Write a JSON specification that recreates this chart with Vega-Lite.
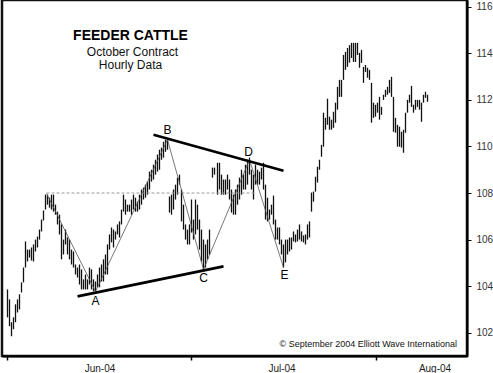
{
  "$schema": "https://vega.github.io/schema/vega-lite/v6.json",
  "width": 465,
  "height": 356,
  "autosize": {"type": "none"},
  "padding": {"left": 2, "top": 0, "right": 26, "bottom": 17},
  "background": "white",
  "config": {
    "view": {"stroke": "#111", "strokeWidth": 2.5},
    "font": "Liberation Sans",
    "text": {"font": "Liberation Sans"}
  },
  "datasets": {
    "bars": [
      {"t":0.5,"hi":103.86,"lo":102.66},{"t":1.5,"hi":103.43,"lo":102.28},{"t":2.5,"hi":102.45,"lo":101.85},{"t":3.5,"hi":102.66,"lo":102.15},
      {"t":4.5,"hi":103.22,"lo":102.45},{"t":5.5,"hi":103.43,"lo":102.87},{"t":6.5,"hi":103.65,"lo":103.0},{"t":7.5,"hi":104.16,"lo":103.73},
      {"t":8.5,"hi":104.8,"lo":104.16},{"t":9.5,"hi":105.92,"lo":104.8},{"t":10.5,"hi":105.57,"lo":105.06},{"t":11.5,"hi":105.57,"lo":105.23},
      {"t":12.5,"hi":105.66,"lo":105.1},{"t":13.5,"hi":105.79,"lo":105.06},{"t":14.5,"hi":106.0,"lo":105.49},{"t":15.5,"hi":106.13,"lo":105.66},
      {"t":16.5,"hi":106.43,"lo":106.0},{"t":17.5,"hi":106.86,"lo":106.35},{"t":18.5,"hi":107.25,"lo":106.82},{"t":19.5,"hi":107.93,"lo":107.29},
      {"t":20.5,"hi":107.93,"lo":107.5},{"t":21.5,"hi":107.8,"lo":107.37},{"t":22.5,"hi":107.93,"lo":107.29},{"t":23.5,"hi":107.93,"lo":107.2},
      {"t":24.5,"hi":107.5,"lo":107.07},{"t":25.5,"hi":107.2,"lo":106.65},{"t":26.5,"hi":107.07,"lo":106.22},{"t":27.5,"hi":106.65,"lo":105.15},
      {"t":28.5,"hi":106.0,"lo":105.36},{"t":29.5,"hi":106.43,"lo":105.79},{"t":30.5,"hi":106.09,"lo":105.36},{"t":31.5,"hi":106.0,"lo":105.15},
      {"t":32.5,"hi":105.57,"lo":104.93},{"t":33.5,"hi":105.49,"lo":104.8},{"t":34.5,"hi":104.93,"lo":104.5},{"t":35.5,"hi":104.8,"lo":104.37},
      {"t":36.5,"hi":104.93,"lo":104.07},{"t":37.5,"hi":104.72,"lo":103.86},{"t":38.5,"hi":104.29,"lo":103.86},{"t":39.5,"hi":104.5,"lo":103.86},
      {"t":40.5,"hi":104.29,"lo":103.86},{"t":41.5,"hi":104.8,"lo":104.07},{"t":42.5,"hi":104.72,"lo":103.86},{"t":43.5,"hi":104.29,"lo":103.78},
      {"t":44.5,"hi":104.2,"lo":103.78},{"t":45.5,"hi":104.5,"lo":103.95},{"t":46.5,"hi":104.8,"lo":103.95},{"t":47.5,"hi":104.93,"lo":104.2},
      {"t":48.5,"hi":105.15,"lo":104.2},{"t":49.5,"hi":105.36,"lo":104.5},{"t":50.5,"hi":105.79,"lo":104.5},{"t":51.5,"hi":106.22,"lo":105.57},
      {"t":52.5,"hi":106.52,"lo":105.88},{"t":53.5,"hi":106.43,"lo":105.66},{"t":54.5,"hi":106.35,"lo":106.0},{"t":55.5,"hi":106.65,"lo":106.22},
      {"t":56.5,"hi":106.78,"lo":106.09},{"t":57.5,"hi":107.29,"lo":106.65},{"t":58.5,"hi":107.93,"lo":107.2},{"t":59.5,"hi":107.72,"lo":107.07},
      {"t":60.5,"hi":107.5,"lo":107.2},{"t":61.5,"hi":107.5,"lo":107.2},{"t":62.5,"hi":107.72,"lo":107.07},{"t":63.5,"hi":107.93,"lo":107.29},
      {"t":64.5,"hi":107.8,"lo":107.2},{"t":65.5,"hi":107.63,"lo":107.2},{"t":66.5,"hi":107.93,"lo":107.29},{"t":67.5,"hi":108.15,"lo":107.5},
      {"t":68.5,"hi":108.23,"lo":107.72},{"t":69.5,"hi":108.36,"lo":107.8},{"t":70.5,"hi":108.49,"lo":107.93},{"t":71.5,"hi":108.92,"lo":108.15},
      {"t":72.5,"hi":109.0,"lo":108.49},{"t":73.5,"hi":109.22,"lo":108.58},{"t":74.5,"hi":109.43,"lo":108.79},{"t":75.5,"hi":109.65,"lo":108.92},
      {"t":76.5,"hi":109.86,"lo":109.0},{"t":77.5,"hi":109.95,"lo":109.43},{"t":78.5,"hi":110.2,"lo":109.52},{"t":79.5,"hi":110.29,"lo":109.77},
      {"t":80.5,"hi":110.29,"lo":109.86},{"t":81.5,"hi":107.85,"lo":107.16},{"t":82.5,"hi":107.93,"lo":107.07},{"t":83.5,"hi":108.15,"lo":107.29},
      {"t":84.5,"hi":108.36,"lo":107.72},{"t":85.5,"hi":108.66,"lo":107.93},{"t":86.5,"hi":108.79,"lo":108.36},{"t":87.5,"hi":108.15,"lo":106.78},
      {"t":88.5,"hi":107.5,"lo":106.43},{"t":89.5,"hi":106.65,"lo":106.0},{"t":90.5,"hi":106.43,"lo":105.79},{"t":91.5,"hi":106.65,"lo":105.79},
      {"t":92.5,"hi":107.72,"lo":106.3},{"t":93.5,"hi":106.86,"lo":106.0},{"t":94.5,"hi":107.72,"lo":106.22},{"t":95.5,"hi":107.5,"lo":106.43},
      {"t":96.5,"hi":106.86,"lo":105.57},{"t":97.5,"hi":106.43,"lo":105.06},{"t":98.5,"hi":106.0,"lo":104.72},{"t":99.5,"hi":105.79,"lo":104.8},
      {"t":100.5,"hi":106.0,"lo":105.15},{"t":101.5,"hi":106.43,"lo":105.36},{"t":103,"hi":109.09,"lo":108.66},{"t":104,"hi":109.09,"lo":108.79},
      {"t":105.5,"hi":109.3,"lo":107.93},{"t":106.5,"hi":109.3,"lo":108.15},{"t":107.5,"hi":108.79,"lo":107.93},{"t":108.5,"hi":108.58,"lo":107.93},
      {"t":109.5,"hi":108.58,"lo":107.93},{"t":110.5,"hi":108.79,"lo":108.15},{"t":111.5,"hi":108.58,"lo":107.72},{"t":112.5,"hi":108.15,"lo":107.16},
      {"t":113.5,"hi":107.93,"lo":107.07},{"t":114.5,"hi":108.15,"lo":107.07},{"t":115.5,"hi":108.36,"lo":107.5},{"t":116.5,"hi":108.66,"lo":107.72},
      {"t":117.5,"hi":109.0,"lo":107.93},{"t":118.5,"hi":108.79,"lo":108.15},{"t":119.5,"hi":109.22,"lo":108.15},{"t":120.5,"hi":109.43,"lo":108.36},
      {"t":121.5,"hi":109.52,"lo":108.79},{"t":122.5,"hi":109.0,"lo":108.15},{"t":123.5,"hi":108.79,"lo":107.72},{"t":124.5,"hi":109.22,"lo":108.36},
      {"t":125.5,"hi":109.0,"lo":108.36},{"t":126.5,"hi":108.92,"lo":108.36},{"t":127.5,"hi":109.09,"lo":108.58},{"t":128.5,"hi":109.3,"lo":108.15},
      {"t":129.5,"hi":108.36,"lo":106.86},{"t":130.5,"hi":107.8,"lo":106.78},{"t":131.5,"hi":107.29,"lo":106.86},{"t":132.5,"hi":107.5,"lo":107.07},
      {"t":133.5,"hi":107.89,"lo":106.65},{"t":134.5,"hi":106.86,"lo":106.0},{"t":135.5,"hi":106.52,"lo":106.0},{"t":136.5,"hi":106.52,"lo":105.79},
      {"t":137.5,"hi":106.0,"lo":105.36},{"t":138.5,"hi":105.79,"lo":104.8},{"t":139.5,"hi":106.0,"lo":105.02},{"t":140.5,"hi":106.0,"lo":105.36},
      {"t":141.5,"hi":106.09,"lo":105.49},{"t":142.5,"hi":106.09,"lo":105.57},{"t":143.5,"hi":106.35,"lo":105.92},{"t":144.5,"hi":106.22,"lo":105.88},
      {"t":145.5,"hi":106.43,"lo":105.92},{"t":146.5,"hi":106.65,"lo":106.0},{"t":147.5,"hi":106.35,"lo":105.92},{"t":148.5,"hi":106.18,"lo":105.88},
      {"t":149.5,"hi":106.22,"lo":105.79},{"t":150.5,"hi":106.65,"lo":106.0},{"t":151.5,"hi":106.78,"lo":106.09},{"t":152.5,"hi":108.02,"lo":107.2},
      {"t":153.5,"hi":108.06,"lo":107.63},{"t":154.5,"hi":108.7,"lo":108.06},{"t":155.5,"hi":109.13,"lo":108.45},{"t":156.5,"hi":109.43,"lo":109.0},
      {"t":157.5,"hi":110.07,"lo":109.56},{"t":158.5,"hi":111.45,"lo":109.99},{"t":159.5,"hi":111.23,"lo":110.72},{"t":160.5,"hi":112.05,"lo":110.93},
      {"t":161.5,"hi":111.28,"lo":110.72},{"t":162.5,"hi":111.15,"lo":110.72},{"t":163.5,"hi":111.49,"lo":110.8},{"t":164.5,"hi":111.88,"lo":111.02},
      {"t":165.5,"hi":112.56,"lo":111.58},{"t":166.5,"hi":112.86,"lo":112.13},{"t":167.5,"hi":112.86,"lo":112.13},{"t":168.5,"hi":113.93,"lo":112.86},
      {"t":169.5,"hi":114.06,"lo":113.29},{"t":170.5,"hi":114.23,"lo":113.42},{"t":171.5,"hi":114.35,"lo":113.6},{"t":172.5,"hi":114.45,"lo":113.8},
      {"t":173.5,"hi":114.45,"lo":113.63},{"t":174.5,"hi":114.45,"lo":113.63},{"t":175.5,"hi":114.45,"lo":113.93},{"t":176.5,"hi":114.02,"lo":113.38},
      {"t":177.5,"hi":114.15,"lo":113.59},{"t":178.5,"hi":113.42,"lo":112.73},{"t":179.5,"hi":113.5,"lo":113.2},{"t":180.5,"hi":113.38,"lo":112.95},
      {"t":181.5,"hi":113.29,"lo":112.86},{"t":182.5,"hi":112.73,"lo":111.02},{"t":183.5,"hi":111.88,"lo":111.23},{"t":184.5,"hi":111.79,"lo":111.28},
      {"t":185.5,"hi":111.88,"lo":111.45},{"t":186.5,"hi":112.13,"lo":111.15},{"t":187.5,"hi":111.7,"lo":111.36},{"t":188.5,"hi":112.22,"lo":112.0},
      {"t":189.5,"hi":112.43,"lo":112.13},{"t":190.5,"hi":112.56,"lo":112.22},{"t":191.5,"hi":112.86,"lo":112.3},{"t":192.5,"hi":112.99,"lo":112.13},
      {"t":193.5,"hi":112.13,"lo":110.63},{"t":194.5,"hi":111.23,"lo":110.59},{"t":195.5,"hi":110.93,"lo":109.99},{"t":196.5,"hi":110.85,"lo":109.99},
      {"t":197.5,"hi":110.63,"lo":109.95},{"t":198.5,"hi":110.72,"lo":109.73},{"t":199.5,"hi":111.45,"lo":110.59},{"t":200.5,"hi":112.0,"lo":111.45},
      {"t":201.5,"hi":112.22,"lo":111.88},{"t":202.5,"hi":112.6,"lo":111.7},{"t":203.5,"hi":111.79,"lo":111.45},{"t":204.5,"hi":112.0,"lo":111.58},
      {"t":205.5,"hi":112.0,"lo":111.7},{"t":206.5,"hi":112.0,"lo":111.58},{"t":207.5,"hi":111.88,"lo":111.06},{"t":208.5,"hi":112.22,"lo":111.88},
      {"t":209.5,"hi":112.35,"lo":112.09},{"t":210.5,"hi":112.22,"lo":111.92}
    ],
    "ref": [{"t": 20, "t2": 124, "v": 108}],
    "wave": [
      {"i": 0, "t": 20, "v": 107.98},
      {"i": 1, "t": 44.5, "v": 103.77},
      {"i": 2, "t": 80.5, "v": 110.29},
      {"i": 3, "t": 98.5, "v": 104.72},
      {"i": 4, "t": 121.5, "v": 109.43},
      {"i": 5, "t": 138.5, "v": 104.8}
    ],
    "trend": [
      {"id": "AC", "t": 35.5, "v": 103.56},
      {"id": "AC", "t": 108.5, "v": 104.85},
      {"id": "BD", "t": 73.5, "v": 110.5},
      {"id": "BD", "t": 138.5, "v": 108.96}
    ],
    "points": [
      {"lab": "A", "t": 44.5, "v": 103.35},
      {"lab": "B", "t": 80.5, "v": 110.72},
      {"lab": "C", "t": 98.5, "v": 104.33},
      {"lab": "D", "t": 121, "v": 109.78},
      {"lab": "E", "t": 139, "v": 104.46}
    ],
    "head": [{"txt": "FEEDER CATTLE", "t": 62, "v": 114.75}],
    "sub": [
      {"txt": "October Contract", "t": 63, "v": 114.06},
      {"txt": "Hourly Data", "t": 62, "v": 113.5}
    ],
    "copy": [{"txt": "© September 2004 Elliott Wave International", "t": 136.5, "v": 101.5}]
  },
  "layer": [
    {
      "data": {"name": "bars"},
      "mark": {"type": "rule", "color": "#111111", "strokeWidth": 1.3},
      "encoding": {
        "x": {
          "field": "t", "type": "quantitative",
          "scale": {"domain": [-2.25, 230.25], "nice": false, "zero": false},
          "axis": {
            "title": null, "grid": false,
            "values": [0, 46.5, 92, 137.5, 184.5, 214],
            "labelExpr": "datum.value == 46.5 ? 'Jun-04' : datum.value == 137.5 ? 'Jul-04' : datum.value == 214 ? 'Aug-04' : ''",
            "tickOpacity": {"condition": {"test": "datum.value == 0 || datum.value == 92 || datum.value == 184.5", "value": 1}, "value": 0},
            "labelFlush": false, "labelOverlap": false,
            "domainColor": "#000", "domainWidth": 2,
            "tickColor": "#000", "tickWidth": 1.5, "tickSize": 4,
            "labelFont": "Liberation Sans", "labelFontSize": 10, "labelColor": "#222", "labelPadding": 3
          }
        },
        "y": {
          "field": "lo", "type": "quantitative",
          "scale": {"domain": [101.0, 116.29], "nice": false, "zero": false},
          "axis": {
            "title": null, "grid": false, "orient": "right",
            "values": [102, 104, 106, 108, 110, 112, 114, 116],
            "domainColor": "#000", "domainWidth": 2,
            "tickColor": "#000", "tickWidth": 1, "tickSize": 4,
            "labelFont": "Liberation Sans", "labelFontSize": 10, "labelColor": "#333", "labelPadding": 5
          }
        },
        "y2": {"field": "hi"}
      }
    },
    {
      "data": {"name": "ref"},
      "mark": {"type": "rule", "color": "#9a9a9a", "strokeWidth": 1, "strokeDash": [3, 2]},
      "encoding": {
        "x": {"field": "t", "type": "quantitative"},
        "x2": {"field": "t2"},
        "y": {"field": "v", "type": "quantitative"}
      }
    },
    {
      "data": {"name": "wave"},
      "mark": {"type": "line", "color": "#555555", "strokeWidth": 0.8},
      "encoding": {
        "x": {"field": "t", "type": "quantitative"},
        "y": {"field": "v", "type": "quantitative"},
        "order": {"field": "i"}
      }
    },
    {
      "data": {"name": "trend"},
      "mark": {"type": "line", "color": "#000000", "strokeWidth": 2.6},
      "encoding": {
        "x": {"field": "t", "type": "quantitative"},
        "y": {"field": "v", "type": "quantitative"},
        "detail": {"field": "id"}
      }
    },
    {
      "data": {"name": "points"},
      "mark": {"type": "text", "fontSize": 12, "color": "#000", "align": "center", "baseline": "middle", "font": "Liberation Sans"},
      "encoding": {
        "x": {"field": "t", "type": "quantitative"},
        "y": {"field": "v", "type": "quantitative"},
        "text": {"field": "lab"}
      }
    },
    {
      "data": {"name": "head"},
      "mark": {"type": "text", "fontSize": 14, "fontWeight": "bold", "color": "#000", "align": "center", "baseline": "middle", "font": "Liberation Sans"},
      "encoding": {
        "x": {"field": "t", "type": "quantitative"},
        "y": {"field": "v", "type": "quantitative"},
        "text": {"field": "txt"}
      }
    },
    {
      "data": {"name": "sub"},
      "mark": {"type": "text", "fontSize": 12, "color": "#111", "align": "center", "baseline": "middle", "font": "Liberation Sans"},
      "encoding": {
        "x": {"field": "t", "type": "quantitative"},
        "y": {"field": "v", "type": "quantitative"},
        "text": {"field": "txt"}
      }
    },
    {
      "data": {"name": "copy"},
      "mark": {"type": "text", "fontSize": 9, "color": "#111", "align": "left", "baseline": "middle", "font": "Liberation Sans"},
      "encoding": {
        "x": {"field": "t", "type": "quantitative"},
        "y": {"field": "v", "type": "quantitative"},
        "text": {"field": "txt"}
      }
    }
  ]
}
